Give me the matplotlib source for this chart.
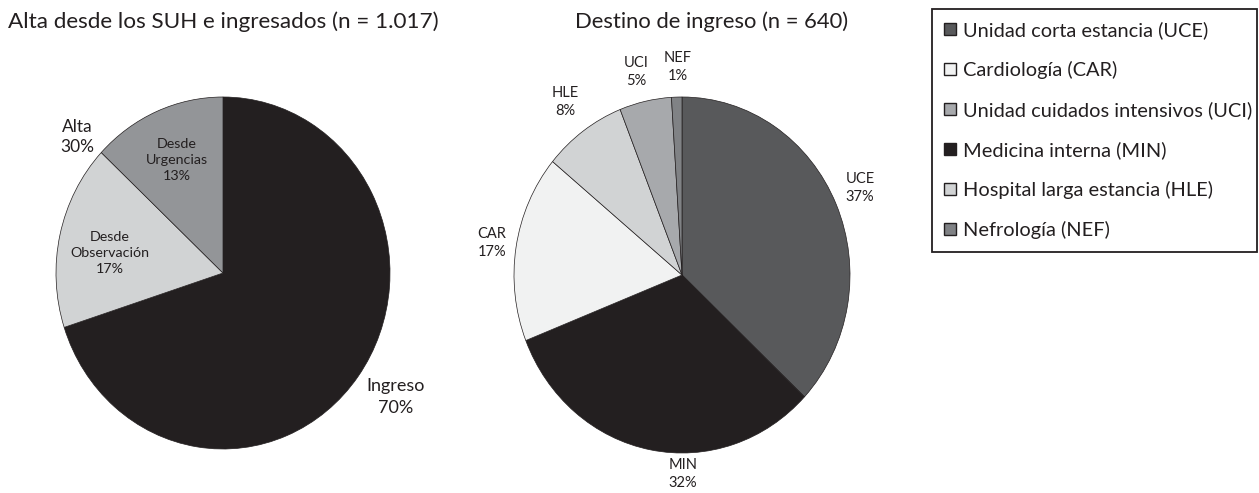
import matplotlib
matplotlib.use('Agg')
import matplotlib.pyplot as plt
from matplotlib.lines import Line2D

W, H, DPI = 1259, 493, 100
plt.rcParams['font.family'] = ['Lato', 'DejaVu Sans']

# ---- data ----
left_title = 'Alta desde los SUH e ingresados (n = 1.017)'
left_labels = ['Ingreso', 'Desde Observación', 'Desde Urgencias']
left_values = [70, 17, 13]
left_colors = ['#231f20', '#d1d3d4', '#939598']

right_title = 'Destino de ingreso (n = 640)'
right_labels = ['UCE', 'MIN', 'CAR', 'HLE', 'UCI', 'NEF']
right_values = [37, 32, 17, 8, 5, 1]
right_colors = ['#58595b', '#231f20', '#f1f2f2', '#d1d3d4', '#a7a9ac', '#808285']

legend_order = ['UCE', 'CAR', 'UCI', 'MIN', 'HLE', 'NEF']
legend_names = ['Unidad corta estancia (UCE)', 'Cardiología (CAR)',
                'Unidad cuidados intensivos (UCI)', 'Medicina interna (MIN)',
                'Hospital larga estancia (HLE)', 'Nefrología (NEF)']

fig = plt.figure(figsize=(W / DPI, H / DPI), dpi=DPI)
L = 1.05


def pie_axes(cx, cy, rx, ry):
    ax = fig.add_axes([(cx - rx * L) / W, (H - cy - ry * L) / H,
                       2 * rx * L / W, 2 * ry * L / H])
    return ax


def finish(ax):
    ax.set_aspect('auto')
    ax.set_xlim(-L, L)
    ax.set_ylim(-L, L)
    ax.axis('off')


def put(ax, geom, px, py, s, size, ls=1.45):
    cx, cy, rx, ry = geom
    ax.text((px - cx) / rx, (cy - py) / ry, s, ha='center', va='center',
            fontsize=size, color='#231f20', linespacing=ls, clip_on=False)


# left pie
gL = (223, 273, 167, 176)
axL = pie_axes(*gL)
axL.pie(left_values, colors=left_colors, startangle=90, counterclock=False,
        wedgeprops=dict(edgecolor='#231f20', linewidth=0.5))
finish(axL)
put(axL, gL, 396, 397, f'{left_labels[0]}\n{left_values[0]}%', 13, 1.5)
put(axL, gL, 110, 253, f'Desde\nObservación\n{left_values[1]}%', 10.3, 1.4)
put(axL, gL, 177, 160, f'Desde\nUrgencias\n{left_values[2]}%', 10.3, 1.4)
put(axL, gL, 77, 137, f'Alta\n{left_values[1] + left_values[2]}%', 12.5, 1.3)

# right pie
gR = (682, 275, 168, 178)
axR = pie_axes(*gR)
wedges, _ = axR.pie(right_values, colors=right_colors, startangle=90,
                    counterclock=False,
                    wedgeprops=dict(edgecolor='#231f20', linewidth=0.5))
finish(axR)
pos = {'UCE': (860, 188), 'MIN': (683, 474), 'CAR': (492, 243),
       'HLE': (565, 102), 'UCI': (636, 72), 'NEF': (678, 67)}
for lab, v in zip(right_labels, right_values):
    px, py = pos[lab]
    put(axR, gR, px, py, f'{lab}\n{v}%', 10.5, 1.4)

fig.text(8 / W, 1 - 22 / H, left_title, ha='left', va='center',
         fontsize=16.2, color='#231f20')
fig.text(575 / W, 1 - 22 / H, right_title, ha='left', va='center',
         fontsize=15.8, color='#231f20')

handles = []
for key in legend_order:
    c = right_colors[right_labels.index(key)]
    handles.append(Line2D([], [], marker='s', linestyle='none', markersize=9,
                          markerfacecolor=c, markeredgecolor='#231f20',
                          markeredgewidth=1.0))
leg = fig.legend(handles, legend_names, loc='upper left',
                 bbox_to_anchor=(932 / W, 1 - 255 / H, 325 / W, 246 / H),
                 mode='expand', fontsize=14.4, labelspacing=1.1,
                 borderpad=0.62, handlelength=0.6, handletextpad=0.35,
                 fancybox=False, framealpha=1, borderaxespad=0)
leg.get_frame().set_edgecolor('#231f20')
leg.get_frame().set_linewidth(1.3)
for t in leg.get_texts():
    t.set_color('#231f20')

fig.savefig('out.png', dpi=DPI)
